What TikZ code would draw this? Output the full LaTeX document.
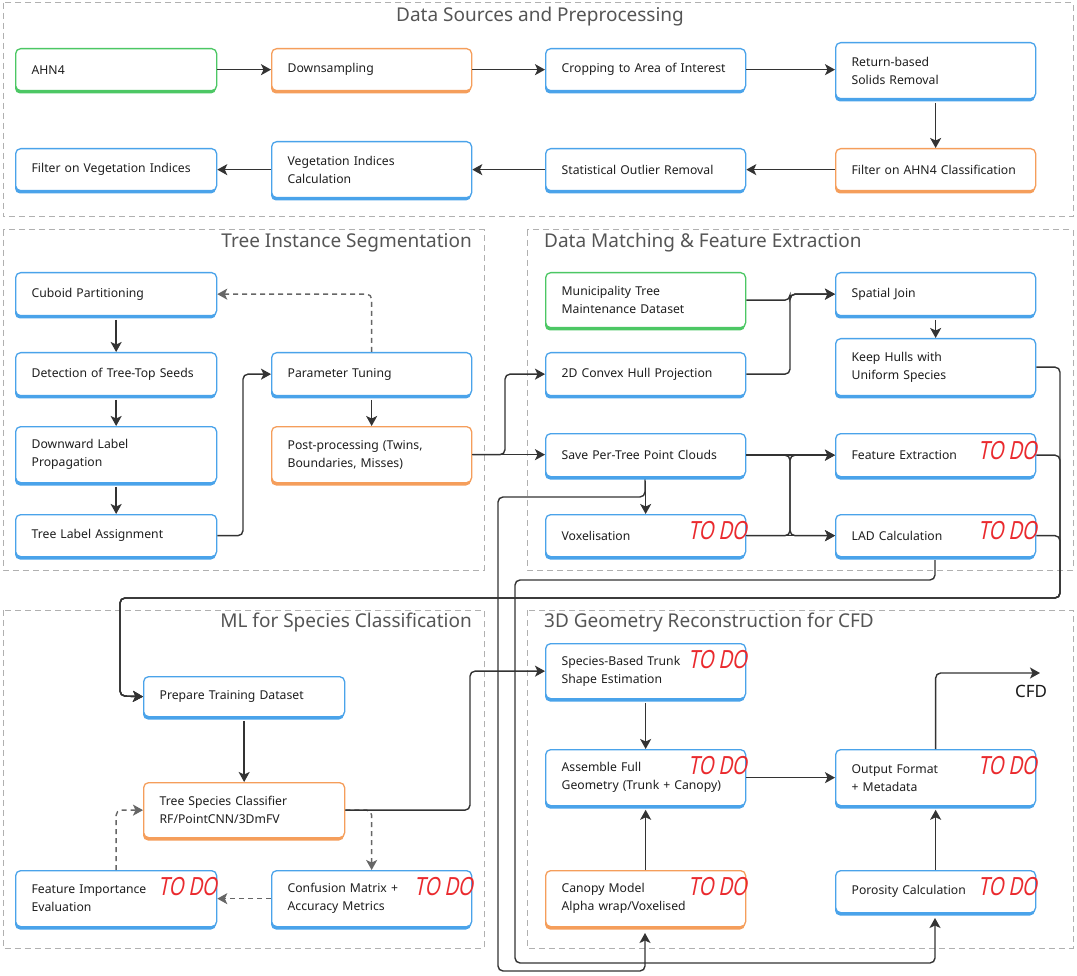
\documentclass[tikz,border=0pt]{standalone}
\usepackage{fontspec}
\setmainfont{Noto Sans}
\newfontfamily\todofont{Liberation Sans}[FakeSlant=0.2,FakeStretch=0.72]
\usetikzlibrary{arrows.meta,calc}
\definecolor{cblue}{HTML}{4AA3EA}
\definecolor{corange}{HTML}{F59E5B}
\definecolor{cgreen}{HTML}{4CC764}
\definecolor{arrowc}{HTML}{333333}
\definecolor{dashc}{HTML}{666666}
\definecolor{framec}{HTML}{B0B0B0}
\definecolor{titlec}{HTML}{555555}
\definecolor{todoc}{HTML}{EA2A2E}
\tikzset{
  boxsty/.style={fill=white, line width=1.3pt, rounded corners=5pt, align=left,
    inner xsep=16pt, inner ysep=0pt, font=\fontsize{12.2}{18}\selectfont, text=black!88},
  conn/.style={draw=arrowc, line width=1.4pt, rounded corners=5pt,
    -{Stealth[length=10pt,width=11pt,inset=2.5pt]}},
  dconn/.style={conn, draw=dashc, dash pattern=on 5pt off 4pt},
  frame/.style={draw=framec, line width=1pt, dash pattern=on 6pt off 4pt},
  title/.style={font=\fontsize{19}{22}\selectfont, text=titlec, inner sep=0pt},
  todo/.style={font=\todofont\fontsize{26}{26}\selectfont, text=todoc, inner sep=0pt, anchor=east},
}
\newcommand{\flowbox}[7]{%
  \pgfmathsetmacro{\tw}{#5-32}%
  \fill[#2, rounded corners=5pt] (#3,#4+3.5) rectangle ++(#5,#6);
  \node[boxsty, draw=#2, anchor=north west, minimum width=#5pt, minimum height=#6pt,
    text width=\tw pt] (#1) at (#3,#4) {#7};
}
\begin{document}
\begin{tikzpicture}[x=1pt,y=-1pt]
\fill[white] (0,0) rectangle (1077,976);
\useasboundingbox (0,0) rectangle (1077,976);

% frames
\draw[frame] (3,3) rectangle (1073,217);
\draw[frame] (3,230) rectangle (484,570);
\draw[frame] (527,230) rectangle (1073,570);
\draw[frame] (3,610) rectangle (484,948);
\draw[frame] (527,610) rectangle (1073,948);

\node[title] (t1) at (540,17) {Data Sources and Preprocessing};
\node[title, anchor=east] (t2) at (472,243) {Tree Instance Segmentation};
\node[title, anchor=west] (t3) at (544,243) {Data Matching \& Feature Extraction};
\node[title, anchor=east] (t4) at (472,623) {ML for Species Classification};
\node[title, anchor=west] (t5) at (544,623) {3D Geometry Reconstruction for CFD};

% guide coordinates
\coordinate (gA) at (790,0);
\coordinate (gB) at (505,0);
\coordinate (gC) at (243,0);
\coordinate (gD) at (1060,0);
\coordinate (gE) at (470,0);

% long connectors first (behind boxes)
\draw[conn] (645,479) -- (645,497) -- (498,497) -- (498,971) -- (645,971) -- (645,933);
\draw[conn] (935,560) -- (935,580) -- (515,580) -- (515,963) -- (935,963) -- (935,918);

% Section 1
\flowbox{ahn}{cgreen}{15}{48}{201}{42}{AHN4}
\flowbox{dsm}{corange}{271}{48}{200}{42}{Downsampling}
\flowbox{crop}{cblue}{545}{48}{200}{42}{Cropping to Area of Interest}
\flowbox{ret}{cblue}{835}{42}{200}{56}{Return-based\\Solids Removal}
\flowbox{fveg}{cblue}{15}{148}{201}{42}{Filter on Vegetation Indices}
\flowbox{vcalc}{cblue}{271}{141}{200}{56}{Vegetation Indices\\Calculation}
\flowbox{sor}{cblue}{545}{148}{200}{42}{Statistical Outlier Removal}
\flowbox{fahn}{corange}{835}{148}{200}{42}{Filter on AHN4 Classification}

% Section 2
\flowbox{cub}{cblue}{15}{272}{201}{43}{Cuboid Partitioning}
\flowbox{det}{cblue}{15}{352}{201}{43}{Detection of Tree-Top Seeds}
\flowbox{dlp}{cblue}{15}{426}{201}{56}{Downward Label\\Propagation}
\flowbox{tla}{cblue}{15}{514}{201}{42}{Tree Label Assignment}
\flowbox{par}{cblue}{271}{352}{200}{43}{Parameter Tuning}
\flowbox{post}{corange}{271}{426}{200}{56}{Post-processing (Twins,\\Boundaries, Misses)}

% Section 3
\flowbox{muni}{cgreen}{545}{272}{200}{55}{Municipality Tree\\Maintenance Dataset}
\flowbox{hull}{cblue}{545}{352}{200}{43}{2D Convex Hull Projection}
\flowbox{save}{cblue}{545}{433}{200}{43}{Save Per-Tree Point Clouds}
\flowbox{vox}{cblue}{545}{514}{200}{42}{Voxelisation}
\flowbox{sj}{cblue}{835}{272}{200}{43}{Spatial Join}
\flowbox{keep}{cblue}{835}{338}{200}{57}{Keep Hulls with\\Uniform Species}
\flowbox{fe}{cblue}{835}{433}{200}{43}{Feature Extraction}
\flowbox{lad}{cblue}{835}{514}{200}{42}{LAD Calculation}

% Section 4
\flowbox{prep}{cblue}{143}{676}{201}{40}{Prepare Training Dataset}
\flowbox{cls}{corange}{143}{782}{201}{55}{Tree Species Classifier\\RF/PointCNN/3DmFV}
\flowbox{fi}{cblue}{15}{870}{201}{56}{Feature Importance\\Evaluation}
\flowbox{cm}{cblue}{271}{870}{200}{56}{Confusion Matrix +\\Accuracy Metrics}

% Section 5
\flowbox{trunk}{cblue}{545}{643}{200}{55}{Species-Based Trunk\\Shape Estimation}
\flowbox{asm}{cblue}{545}{749}{200}{56}{Assemble Full\\Geometry (Trunk + Canopy)}
\flowbox{can}{corange}{545}{870}{200}{56}{Canopy Model\\Alpha wrap/Voxelised}
\flowbox{out}{cblue}{835}{749}{200}{56}{Output Format\\+ Metadata}
\flowbox{por}{cblue}{835}{870}{200}{42}{Porosity Calculation}

% TO DO labels
\node[todo] (td1) at (747,531) {TO DO};
\node[todo] (td2) at (1037,451) {TO DO};
\node[todo] (td3) at (1037,531) {TO DO};
\node[todo] (td4) at (217,887) {TO DO};
\node[todo] (td5) at (473,887) {TO DO};
\node[todo] (td6) at (747,660) {TO DO};
\node[todo] (td7) at (747,766) {TO DO};
\node[todo] (td8) at (1037,766) {TO DO};
\node[todo] (td9) at (747,887) {TO DO};
\node[todo] (td10) at (1037,887) {TO DO};

% Section 1 connectors
\draw[conn] (ahn.east) -- (dsm.west);
\draw[conn] (dsm.east) -- (crop.west);
\draw[conn] (crop.east) -- (crop.east -| ret.west);
\draw[conn] ([yshift=-3.5pt]ret.south) -- (fahn.north);
\draw[conn] (fahn.west) -- (sor.east);
\draw[conn] (sor.west) -- (vcalc.east);
\draw[conn] (vcalc.west) -- (fveg.east);

% Section 2 connectors
\draw[conn] ([yshift=-3.5pt]cub.south) -- (det.north);
\draw[conn] ([yshift=-3.5pt]det.south) -- (dlp.north);
\draw[conn] ([yshift=-3.5pt]dlp.south) -- (tla.north);
\draw[conn] ([yshift=-3.5pt]par.south) -- (post.north);
\draw[conn] (tla.east) -- (tla.east -| gC) -- (par.west -| gC) -- (par.west);
\draw[dconn] (par.north) -- (par.north |- cub.east) -- (cub.east);
\draw[conn] (post.east) -- (post.east -| gB) -- (hull.west -| gB) -- (hull.west);
\draw[conn] (post.east) -- (save.west |- post.east);

% Section 3 connectors
\draw[conn] (muni.east) -- (muni.east -| gA) -- (sj.west -| gA) -- (sj.west);
\draw[conn] (hull.east) -- (hull.east -| gA) -- (sj.west -| gA) -- (sj.west);
\draw[conn] ([yshift=-3.5pt]sj.south) -- (keep.north);
\draw[conn] (save.east) -- (fe.west |- save.east);
\draw[conn] (save.east) -- (save.east -| gA) -- (lad.west -| gA) -- (lad.west);
\draw[conn] (vox.east) -- (vox.east -| gA) -- (fe.west -| gA) -- (fe.west);
\draw[conn] (vox.east) -- (lad.west |- vox.east);
\draw[conn] ([yshift=-3.5pt]save.south) -- (vox.north);

% loop to Prepare Training Dataset
\draw[conn] (keep.east) -- (keep.east -| gD) -- (1060,598) -- (120,598) -- (120,696) -- (prep.west);
\draw[conn] (fe.east) -- (fe.east -| gD) -- (1060,598) -- (120,598) -- (120,696) -- (prep.west);
\draw[conn] (lad.east) -- (lad.east -| gD) -- (1060,598) -- (120,598) -- (120,696) -- (prep.west);

% Section 4 connectors
\draw[conn] ([yshift=-3.5pt]prep.south) -- (cls.north);
\draw[dconn] (cls.east) -- (cls.east -| cm.north) -- (cm.north);
\draw[dconn] (cm.west) -- (fi.east);
\draw[dconn] (fi.north) -- (fi.north |- cls.west) -- (cls.west);
\draw[conn] (cls.east) -- (cls.east -| gE) -- (trunk.west -| gE) -- (trunk.west);

% Section 5 connectors
\draw[conn] ([yshift=-3.5pt]trunk.south) -- (asm.north);
\draw[conn] (can.north) -- ([yshift=-3.5pt]asm.south);
\draw[conn] (asm.east) -- (out.west);
\draw[conn] (por.north) -- ([yshift=-3.5pt]out.south);
\coordinate (cfdend) at (1040,673);
\draw[conn] (out.north) -- (out.north |- cfdend) -- (cfdend);
\node[font=\fontsize{17}{17}\selectfont, text=black!90, inner sep=0pt] (cfd) at (1031,691) {CFD};
\end{tikzpicture}
\end{document}
